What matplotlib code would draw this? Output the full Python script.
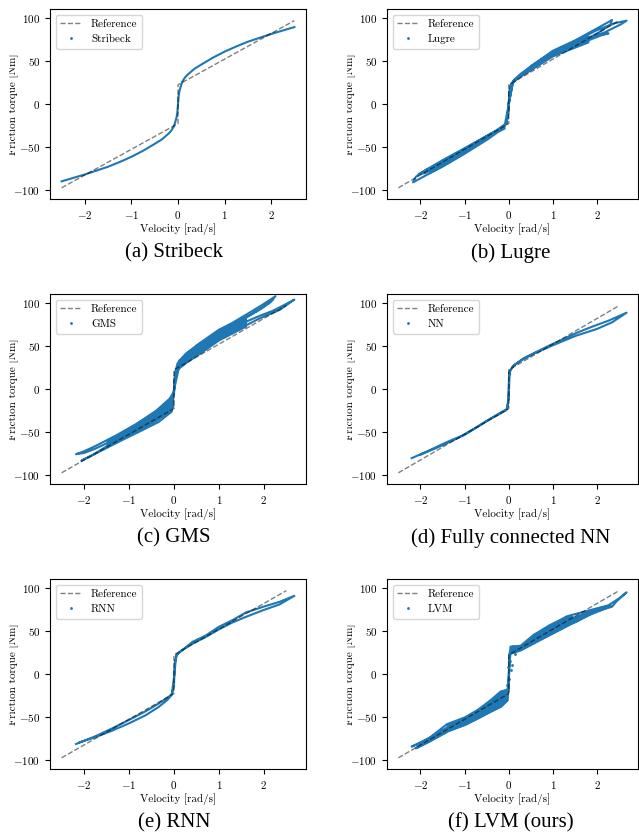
import matplotlib
matplotlib.use("Agg")
import matplotlib.pyplot as plt
from matplotlib.lines import Line2D
from matplotlib.patches import Rectangle

plt.rcParams["font.family"] = "serif"
plt.rcParams["font.serif"] = ["cmr10"]
plt.rcParams["mathtext.fontset"] = "cm"
plt.rcParams["axes.formatter.use_mathtext"] = True
plt.rcParams["font.size"] = 8

# reference friction model
ref_v = [-2.5, 0.0, 0.0, 2.5]
ref_tau = [-97, -22.5, 22.5, 97]

# Stribeck
stribeck_v = [-2.5, -2.0, -1.5, -1.25, -1.0, -0.75, -0.5, -0.35, -0.2, -0.15, -0.09, -0.05, -0.03, -0.015, 0.0,
              0.015, 0.03, 0.05, 0.09, 0.15, 0.2, 0.35, 0.5, 0.75, 1.0, 1.25, 1.5, 2.0, 2.5]
stribeck_tau = [-89.5, -81.5, -72.5, -67, -61, -54, -46, -41, -34, -31, -26, -19, -15, -10, 0,
                10, 15, 19, 26, 31, 34, 41, 46, 54, 61, 67, 72.5, 81.5, 89.5]

# Lugre (time series through the loops)
lugre_v = [0.0, 0.015, 0.05, 0.15, 0.3, 0.5, 1.0, 1.5, 2.0, 2.4, 2.67,
           2.55, 2.2, 1.9, 1.5, 1.0, 0.5, 0.2, 0.06, 0.02, 0.0, -0.02, -0.06, -0.2, -0.4, -1.0, -1.5, -1.9, -2.1, -2.17,
           -2.0, -1.5, -1.0, -0.5, -0.2, -0.05, -0.01, 0.0, 0.02, 0.07, 0.2, 0.5, 1.0, 1.5, 2.0, 2.34,
           2.3, 2.0, 1.5, 1.0, 0.5, 0.2, 0.05, 0.0, -0.05, -0.3, -1.0, -1.5, -2.04,
           -1.9, -1.5, -1.0, -0.5, -0.1, 0.0, 0.1, 0.5, 1.0, 1.5, 2.0, 2.26,
           2.1, 1.5, 1.0, 0.5, 0.1, 0.0]
lugre_tau = [0, 14, 23, 29, 35, 44, 61, 73, 86, 94, 97,
             93, 84, 78, 67, 56, 40, 30, 24, 15, 0, -14, -23, -29, -34, -51, -65, -77, -84, -90.7,
             -86, -72, -57, -40, -30, -22, -10, 0, 14, 24, 31, 44, 62, 74, 88, 97.7,
             92, 82, 69, 57, 41, 31, 23, 0, -22, -31, -52, -66, -81,
             -80, -69, -55, -38, -27, 0, 27, 42, 59, 71, 80, 82.2,
             80, 68, 57, 40, 27, 0]
lugre_pos_v = [0.1, 0.25, 0.5, 1.0, 1.5, 1.8]
lugre_pos_hi = [29, 36, 45, 61, 73, 80]
lugre_pos_lo = [26, 32, 40, 56, 66, 72]
lugre_neg_v = [-1.8, -1.5, -1.0, -0.5, -0.25, -0.1]
lugre_neg_hi = [-74, -65, -51, -37, -30, -27]
lugre_neg_lo = [-80, -72, -57, -41, -32, -28]

# GMS
gms_v = [0.0, 0.02, 0.08, 0.26, 0.56, 1.0, 1.3, 1.75, 2.0, 2.26,
         2.15, 1.9, 1.5, 1.0, 0.56, 0.26, 0.08, 0.01, 0.0, -0.05, -0.2, -0.41, -0.86, -1.3, -1.75, -2.0, -2.18,
         -2.0, -1.75, -1.3, -0.86, -0.41, -0.11, 0.0, 0.02, 0.1, 0.26, 0.56, 1.0, 1.45, 1.9, 2.35, 2.68,
         2.5, 2.2, 1.9, 1.5, 1.0, 0.56, 0.26, 0.05, 0.0, -0.05, -0.34, -0.78, -1.23, -1.68, -2.06,
         -1.8, -1.3, -0.8, -0.4, -0.1, 0.0, 0.05, 0.2, 0.5, 1.0, 1.5, 2.0, 2.2]
gms_tau = [2, 18, 30, 41, 53, 69, 77, 91, 99, 108,
           101, 92, 80, 64, 48, 36, 25, 8, -5, -14, -19, -26, -41, -54, -66, -72, -75.4,
           -74, -69, -58, -45, -31, -18, -6, 10, 24, 33, 43, 58, 70, 82, 92, 104,
           99, 91, 85, 76, 62, 46, 35, 22, 0, -26, -38, -49.5, -61, -73, -83,
           -76, -60, -45, -33, -20, -2, 17, 36, 50, 66, 80, 96, 104]
gms_pos_v = [0.02, 0.1, 0.3, 0.56, 1.0, 1.3, 1.6]
gms_pos_hi = [20, 34, 44, 53, 69, 77, 86]
gms_pos_lo = [5, 24, 32, 41, 57, 65, 73]
gms_neg_v = [-1.5, -1.3, -0.86, -0.41, -0.11, -0.02]
gms_neg_hi = [-59, -54, -40, -24, -10, -2]
gms_neg_lo = [-67, -62, -49.5, -37, -26, -20]

# fully connected NN
nn_v = [-2.2, -1.8, -1.43, -1.06, -0.69, -0.4, -0.18, -0.04, -0.015, 0.007, 0.03, 0.12, 0.34, 0.64, 0.93,
        1.23, 1.52, 1.89, 2.26, 2.67,
        2.34, 2.0, 1.52, 1.0, 0.6, 0.3, 0.1, 0.02, 0.0, -0.05, -0.2, -0.5, -1.0, -1.5, -2.0]
nn_tau = [-80, -71, -62, -54, -43, -33.6, -27, -23, -16, 15, 22, 28, 36, 43.6, 51,
          58, 65, 72.6, 79.5, 88.8,
          77.6, 70, 62, 51, 42, 34, 27, 20, -10, -24, -28.5, -37, -53, -65, -76]

# RNN
rnn_v = [-2.18, -1.75, -1.38, -1.0, -0.63, -0.34, -0.11, -0.04, 0.0, 0.02, 0.07, 0.19, 0.41, 0.71, 1.0,
         1.3, 1.6, 1.97, 2.35, 2.68,
         2.35, 1.97, 1.6, 1.3, 1.0, 0.7, 0.4, 0.15, 0.05, 0.01, -0.05, -0.15, -0.34, -0.63, -1.0, -1.4, -1.8, -2.1]
rnn_tau = [-81, -72, -63, -53, -43, -34, -26, -22.4, -13, 14, 23, 28, 37.5, 45, 55,
           62.7, 71.6, 78, 84, 91,
           81, 74, 66.5, 60, 52, 43, 35, 27, 22, 0, -24, -30, -38, -47.6, -57, -66, -74, -79]

# LVM (ours)
lvm_v = [-2.1, -1.73, -1.36, -0.99, -0.69, -0.4, -0.18, -0.03, 0.0, 0.02, 0.04, 0.27, 0.56, 0.93, 1.37,
         1.82, 2.26, 2.5, 2.67,
         2.45, 2.34, 1.97, 1.52, 1.08, 0.64, 0.27, 0.04, 0.01, -0.01, -0.03, -0.18, -0.4, -0.69, -0.99, -1.4,
         -1.8, -2.2,
         -2.0, -1.4, -1.0, -0.5, -0.2, 0.0, 0.02, 0.3, 0.8, 1.3, 1.8, 2.3]
lvm_tau = [-85.7, -76, -66, -58.7, -51, -43, -37.5, -30, -5, 20, 32, 33, 45.5, 57, 68,
           74, 80, 88, 95,
           85, 78.4, 72.6, 61, 49.4, 37.8, 28, 24, 10, -10, -18, -20, -29.7, -41, -50, -58,
           -74, -84,
           -80, -62, -54, -38, -29, -20, 25, 31, 47, 62, 72, 80]
lvm_pos_v = [0.04, 0.27, 0.56, 0.93, 1.3, 1.37, 1.52, 1.82, 2.26]
lvm_pos_hi = [32, 33, 45.5, 57, 68, 68, 66, 73, 80]
lvm_pos_lo = [24, 28, 36, 46, 56, 58, 61, 69, 78]
lvm_neg_v = [-2.1, -1.8, -1.42, -1.4, -1.0, -0.7, -0.4, -0.18, -0.03]
lvm_neg_hi = [-84, -74, -64, -58, -50, -41, -29.7, -20, -18]
lvm_neg_lo = [-85.7, -78, -67, -66, -58.7, -51, -43, -37.5, -30]
lvm_dots_v = [-0.04, 0.0, 0.04, 0.08, -0.02, 0.03, 0.06, -0.06, 0.1, 0.15]
lvm_dots_tau = [-12, -5, 5, 11, 8, 15, 28, -22, 33, 24]

names = ["Stribeck", "Lugre", "GMS", "NN", "RNN", "LVM"]
captions = ["(a) Stribeck", "(b) Lugre", "(c) GMS", "(d) Fully connected NN", "(e) RNN", "(f) LVM (ours)"]
series = [(stribeck_v, stribeck_tau), (lugre_v, lugre_tau), (gms_v, gms_tau),
          (nn_v, nn_tau), (rnn_v, rnn_tau), (lvm_v, lvm_tau)]
bands = {
    "Lugre": [(lugre_pos_v, lugre_pos_lo, lugre_pos_hi), (lugre_neg_v, lugre_neg_lo, lugre_neg_hi)],
    "GMS": [(gms_pos_v, gms_pos_lo, gms_pos_hi), (gms_neg_v, gms_neg_lo, gms_neg_hi)],
    "LVM": [(lvm_pos_v, lvm_pos_lo, lvm_pos_hi), (lvm_neg_v, lvm_neg_lo, lvm_neg_hi)],
}

W, H = 639, 833
fig = plt.figure(figsize=(W / 100, H / 100), dpi=100)

col_left = [50, 387]
col_width = [256, 251]
row_top = [9, 294, 579]
ax_h = 190
caption_x = [174, 511]
caption_y = [253, 538, 823]
crop_x = [8, 346]  # each subfigure was trimmed on its left side

for i, (name, cap, (v, tau)) in enumerate(zip(names, captions, series)):
    r, c = divmod(i, 2)
    ax = fig.add_axes([col_left[c] / W, 1 - (row_top[r] + ax_h) / H, col_width[c] / W, ax_h / H])
    ax.plot(v, tau, color="C0", lw=1.5, zorder=2)
    for bv, lo, hi in bands.get(name, []):
        ax.fill_between(bv, lo, hi, color="C0", lw=1, zorder=2)
    if name == "LVM":
        ax.plot(lvm_dots_v, lvm_dots_tau, ".", color="C0", ms=2, zorder=2)
    ax.plot(ref_v, ref_tau, "k--", lw=1, alpha=0.5, zorder=3)
    ax.set_ylim(-110, 110.5)
    ax.set_xlabel("Velocity [rad/s]", labelpad=2)
    ax.set_ylabel("Friction torque [Nm]")
    ax.yaxis.set_label_coords(-31 / col_width[c], 0.5)
    handles = [Line2D([], [], color="k", ls="--", lw=1, alpha=0.5),
               Line2D([], [], color="C0", ls="none", marker=".", ms=2)]
    ax.legend(handles, ["Reference", name], loc="upper left", fontsize=8)
    fig.text(caption_x[c] / W, 1 - caption_y[r] / H, cap, ha="center", va="center",
             fontsize=15, family="Liberation Serif")
    # white strip hides the trimmed part of the y label
    x0 = crop_x[c] - 30
    fig.add_artist(Rectangle((x0 / W, 1 - (row_top[r] + ax_h) / H), 30 / W, ax_h / H,
                             transform=fig.transFigure, color="white", zorder=10))

fig.savefig("out.png", dpi=100)
